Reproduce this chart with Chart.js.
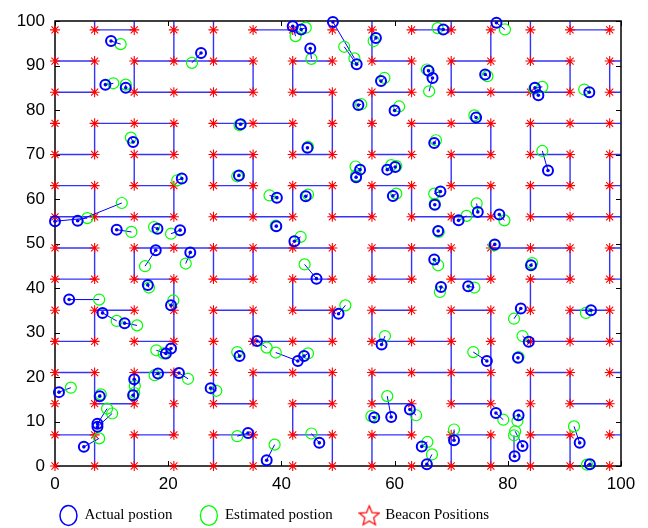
<!DOCTYPE html>
<html>
<head>
<meta charset="utf-8">
<script src="https://cdn.jsdelivr.net/npm/chart.js@4.4.1/dist/chart.umd.min.js"></script>
<style>
html,body{margin:0;padding:0;background:#fff;}
#wrap{width:648px;height:528px;position:relative;}
</style>
</head>
<body>
<div id="wrap"><canvas id="c" width="648" height="528"></canvas></div>
<script>
// ---------- data ----------
const beaconPos = [0, 7, 14, 21, 28, 35, 42, 49, 56, 63, 70, 77, 84, 91, 98];
const xTicks = [0, 20, 40, 60, 80, 100];
const yTicks = [0, 10, 20, 30, 40, 50, 60, 70, 80, 90, 100];

const actualX = [9.9, 8.9, 12.5, 25.8, 13.8, 22.4, 42.0, 43.5, 49.1, 53.3, 45.1, 56.7, 57.6, 53.6, 60.0, 32.8, 44.6, 32.5, 53.9, 53.2, 58.7, 60.1, 68.6, 78.0, 66.0, 66.7, 76.0, 84.8, 85.4, 94.4, 74.4, 67.0, 87.1, 0.0, 4.0, 10.9, 18.1, 22.1, 17.8, 23.9, 16.4, 2.5, 20.5, 8.4, 12.3, 19.6, 20.5, 18.2, 21.9, 14.0, 13.8, 7.9, 0.7, 7.5, 7.5, 5.1, 27.5, 35.7, 42.9, 44.0, 32.6, 34.1, 37.4, 46.7, 57.7, 59.4, 56.4, 62.7, 64.8, 65.7, 83.7, 76.3, 81.8, 70.5, 77.9, 81.9, 82.6, 81.2, 92.7, 94.5, 39.2, 44.3, 39.1, 42.3, 46.2, 50.1, 59.7, 68.1, 67.1, 74.7, 71.3, 78.5, 67.7, 77.7, 67.0, 84.1, 68.2, 73.0, 82.3, 94.7];
const actualY = [95.5, 85.7, 85.0, 92.8, 72.8, 64.6, 98.8, 98.1, 99.8, 90.3, 93.8, 96.2, 86.5, 81.1, 79.9, 76.8, 71.5, 65.3, 66.6, 64.9, 66.6, 67.2, 98.1, 99.6, 88.8, 87.2, 88.0, 85.0, 83.3, 84.0, 78.3, 72.6, 66.4, 55.0, 55.1, 53.1, 53.3, 53.0, 48.5, 48.0, 40.7, 37.4, 36.1, 34.4, 32.1, 25.3, 26.4, 20.8, 20.9, 19.5, 15.9, 15.7, 16.6, 9.5, 8.8, 4.3, 17.5, 28.1, 23.6, 24.7, 24.7, 7.4, 1.3, 5.2, 27.3, 11.0, 10.9, 12.7, 4.4, 0.4, 27.9, 23.6, 24.3, 5.8, 11.9, 11.4, 4.5, 2.2, 5.2, 0.4, 60.3, 60.6, 53.9, 50.5, 42.1, 34.2, 60.7, 61.7, 58.7, 57.1, 55.2, 56.5, 52.8, 49.8, 46.4, 45.1, 40.2, 40.4, 35.4, 35.0];
const estimatedX = [11.6, 10.3, 12.5, 24.2, 13.4, 21.6, 42.5, 44.3, 52.9, 51.1, 45.3, 56.3, 58.2, 54.1, 60.8, 32.6, 44.7, 32.2, 53.1, 53.2, 59.4, 60.3, 67.6, 79.5, 65.7, 66.1, 76.4, 86.1, 84.7, 93.5, 74.1, 67.3, 86.1, 5.7, 11.8, 13.5, 17.5, 20.5, 15.9, 23.1, 16.6, 7.8, 20.9, 10.9, 14.5, 17.9, 19.2, 17.6, 23.5, 14.1, 14.0, 8.1, 2.8, 9.2, 10.1, 7.8, 28.5, 37.4, 39.0, 44.7, 32.2, 32.2, 38.8, 45.3, 58.3, 58.7, 55.9, 63.8, 65.8, 66.6, 82.6, 73.9, 81.9, 70.5, 79.2, 81.7, 81.3, 81.1, 91.7, 94.0, 37.9, 44.7, 39.0, 43.4, 44.1, 51.3, 60.3, 67.0, 67.1, 74.5, 72.7, 79.4, 67.8, 77.6, 67.7, 84.3, 68.0, 74.1, 81.1, 93.8];
const estimatedY = [94.8, 86.0, 85.7, 90.6, 73.8, 64.2, 96.6, 98.5, 91.6, 94.2, 91.5, 95.5, 87.2, 81.3, 80.8, 76.6, 71.7, 65.1, 67.3, 65.3, 67.6, 67.4, 98.4, 98.1, 89.1, 84.2, 87.6, 85.2, 84.8, 84.6, 78.8, 73.2, 70.8, 55.7, 59.1, 52.6, 53.7, 52.2, 44.9, 45.5, 40.1, 37.4, 37.2, 32.6, 31.6, 26.0, 25.3, 20.4, 19.6, 18.0, 16.4, 16.1, 17.6, 12.9, 11.8, 6.2, 16.9, 26.6, 25.5, 25.3, 25.6, 6.7, 4.8, 7.3, 29.2, 15.7, 11.2, 11.4, 5.4, 2.6, 29.2, 25.6, 24.5, 8.2, 10.4, 10.1, 7.8, 6.9, 8.9, 0.3, 60.8, 61.0, 54.0, 51.5, 45.3, 36.1, 61.2, 61.2, 58.9, 59.0, 56.2, 55.2, 52.6, 49.6, 45.1, 45.6, 39.1, 40.1, 33.1, 34.4];

// maze walls, as [column index, row index] into beaconPos
// horizontal wall: from (i, j) to (i+1, j); vertical wall: from (i, j) to (i, j+1)
const hWalls = [
  [1,14],[5,14],[9,14],[13,14],
  [0,13],[2,13],[3,13],[4,13],[6,13],[8,13],[10,13],[12,13],[14,13],
  [0,12],[2,12],[3,12],[4,12],[6,12],[8,12],[10,12],[11,12],[12,12],[14,12],
  [1,11],[2,11],[4,11],[5,11],[9,11],[10,11],[12,11],[13,11],[14,11],
  [0,10],[2,10],[4,10],[6,10],[8,10],[10,10],[12,10],[14,10],
  [0,9],[2,9],[4,9],[6,9],[8,9],[10,9],[12,9],[14,9],
  [0,8],[1,8],[2,8],[4,8],[5,8],[7,8],[9,8],[10,8],[12,8],[13,8],[14,8],
  [0,7],[2,7],[3,7],[4,7],[5,7],[6,7],[8,7],[9,7],[11,7],[12,7],[14,7],
  [0,6],[2,6],[4,6],[6,6],[8,6],[10,6],[12,6],[14,6],
  [1,5],[4,5],[6,5],[8,5],[10,5],[13,5],
  [0,4],[2,4],[5,4],[6,4],[8,4],[9,4],[12,4],[13,4],[14,4],
  [0,3],[2,3],[5,3],[6,3],[8,3],[9,3],[10,3],[12,3],[14,3],
  [1,2],[4,2],[6,2],[8,2],[10,2],[13,2],
  [0,1],[2,1],[4,1],[6,1],[8,1],[10,1],[12,1],[14,1]
];
const vWalls = [
  [1,14],[2,14],[3,14],[4,14],[8,14],[10,14],[12,14],[13,14],
  [3,13],[4,13],[8,13],[11,13],[12,13],
  [1,12],[2,12],[5,12],[6,12],[9,12],[10,12],[13,12],[14,12],
  [7,11],[8,11],
  [1,10],[3,10],[6,10],[7,10],[8,10],[9,10],[11,10],[12,10],
  [2,9],[4,9],[5,9],[10,9],[13,9],[14,9],
  [1,8],[3,8],[5,8],[6,8],[7,8],[8,8],[9,8],[11,8],[12,8],[14,8],
  [1,6],[2,6],[4,6],[5,6],[7,6],[8,6],[9,6],[10,6],[11,6],[13,6],[14,6],
  [3,5],[6,5],[12,5],
  [1,4],[3,4],[4,4],[5,4],[7,4],[8,4],[10,4],[11,4],[13,4],[14,4],
  [4,3],[10,3],[11,3],
  [1,2],[2,2],[3,2],[4,2],[5,2],[7,2],[8,2],[10,2],[11,2],[12,2],[13,2],
  [3,1],[6,1],[9,1],[12,1],
  [1,0],[2,0],[4,0],[5,0],[7,0],[8,0],[10,0],[11,0],[12,0],[13,0]
];

// ---------- build datasets ----------
const AXIS_MAX = 100;
const posAt = k => (k < beaconPos.length ? beaconPos[k] : AXIS_MAX);
const gap = {x: null, y: null};

const mazePts = [];
hWalls.forEach(([i, j]) => { mazePts.push({x: beaconPos[i], y: beaconPos[j]}, {x: posAt(i + 1), y: beaconPos[j]}, gap); });
vWalls.forEach(([i, j]) => { mazePts.push({x: beaconPos[i], y: beaconPos[j]}, {x: beaconPos[i], y: posAt(j + 1)}, gap); });

const beaconPts = [];
beaconPos.forEach(bx => beaconPos.forEach(by => beaconPts.push({x: bx, y: by})));

const actualPts = actualX.map((v, k) => ({x: v, y: actualY[k]}));
const estPts = estimatedX.map((v, k) => ({x: v, y: estimatedY[k]}));
const linkPts = [];
actualPts.forEach((p, k) => linkPts.push(p, estPts[k], gap));

// legend star icon
function starIcon() {
  const c = document.createElement('canvas');
  c.width = 22; c.height = 24;
  const g = c.getContext('2d');
  g.strokeStyle = '#ff0000'; g.lineWidth = 1.2;
  g.beginPath();
  for (let k = 0; k < 10; k++) {
    const r = k % 2 === 0 ? 10.5 : 4.6;
    const a = -Math.PI / 2 + k * Math.PI / 5;
    const px = 11 + r * Math.cos(a), py = 12.8 + r * Math.sin(a);
    k === 0 ? g.moveTo(px, py) : g.lineTo(px, py);
  }
  g.closePath(); g.stroke();
  return c;
}
const starImg = starIcon();

const frame = {
  id: 'frame',
  beforeDatasetsDraw(chart) {
    const {ctx, chartArea: a, scales: {x, y}} = chart;
    ctx.save();
    ctx.strokeStyle = '#000';
    ctx.lineWidth = 1.5;
    ctx.strokeRect(a.left, a.top, a.right - a.left, a.bottom - a.top);
    ctx.lineWidth = 1;
    ctx.beginPath();
    xTicks.forEach(v => {
      const p = Math.round(x.getPixelForValue(v)) + 0.5;
      ctx.moveTo(p, a.bottom); ctx.lineTo(p, a.bottom - 5);
      ctx.moveTo(p, a.top); ctx.lineTo(p, a.top + 5);
    });
    yTicks.forEach(v => {
      const p = Math.round(y.getPixelForValue(v)) + 0.5;
      ctx.moveTo(a.left, p); ctx.lineTo(a.left + 5, p);
      ctx.moveTo(a.right, p); ctx.lineTo(a.right - 5, p);
    });
    ctx.stroke();
    ctx.restore();
  }
};

const legendShift = {
  id: 'legendShift',
  afterLayout(chart) {
    const L = chart.legend;
    if (!L) return;
    L.left -= 36; L.right -= 36;
    L.top -= 21; L.bottom -= 21;
  }
};

new Chart(document.getElementById('c'), {
  type: 'scatter',
  data: {
    datasets: [
      {label: 'maze', type: 'line', data: mazePts, borderColor: 'rgba(0,0,255,0.8)', borderWidth: 1.4,
       pointRadius: 0, spanGaps: false, fill: false, order: 6, clip: false},
      {label: 'Beacon Positions', data: beaconPts, pointStyle: 'star', pointRadius: 5,
       borderColor: '#ff0000', borderWidth: 1.1, backgroundColor: '#ff0000', order: 5, clip: false},
      {label: 'links', type: 'line', data: linkPts, borderColor: '#0000ff', borderWidth: 1,
       pointRadius: 0, spanGaps: false, fill: false, order: 4, clip: false},
      {label: 'Estimated postion', data: estPts, pointStyle: 'circle', pointRadius: 5.5,
       borderColor: '#00ff00', borderWidth: 1.2, backgroundColor: 'rgba(0,0,0,0)', order: 3, clip: false},
      {label: 'Actual postion', data: actualPts, pointStyle: 'circle', pointRadius: 5,
       borderColor: '#0000ff', borderWidth: 2, backgroundColor: 'rgba(0,0,0,0)', order: 2, clip: false},
      {label: 'centres', data: actualPts, pointStyle: 'circle', pointRadius: 1.8,
       borderColor: '#0000ff', borderWidth: 0, backgroundColor: '#0000ff', order: 1, clip: false}
    ]
  },
  options: {
    responsive: false,
    animation: false,
    events: [],
    devicePixelRatio: 1,
    layout: {padding: {top: 21, left: 0, right: 27, bottom: -26}},
    scales: {
      x: {
        type: 'linear', min: 0, max: 100,
        afterFit: s => { s.height = 35; },
        ticks: {stepSize: 20, padding: 8, maxRotation: 0, autoSkip: false, color: '#000', font: {family: 'Liberation Sans', size: 17}},
        grid: {display: false, drawTicks: false}, border: {display: false}
      },
      y: {
        type: 'linear', min: 0, max: 100,
        afterFit: s => { s.width = 55; },
        ticks: {stepSize: 10, padding: 10, autoSkip: false, color: '#000', font: {family: 'Liberation Sans', size: 17}},
        grid: {display: false, drawTicks: false}, border: {display: false}
      }
    },
    plugins: {
      tooltip: {enabled: false},
      legend: {
        position: 'bottom',
        labels: {
          usePointStyle: true, pointStyleWidth: 17, boxHeight: 14, padding: 28,
          color: '#000', font: {family: 'Liberation Serif', size: 15},
          generateLabels: () => [
            {text: 'Actual postion', pointStyle: 'circle', strokeStyle: '#0000ff', fillStyle: 'rgba(0,0,0,0)', lineWidth: 1.5, datasetIndex: 4},
            {text: 'Estimated postion', pointStyle: 'circle', strokeStyle: '#00ff00', fillStyle: 'rgba(0,0,0,0)', lineWidth: 1.3, datasetIndex: 3},
            {text: 'Beacon Positions', pointStyle: starImg, strokeStyle: '#ff0000', fillStyle: 'rgba(0,0,0,0)', lineWidth: 1, datasetIndex: 1}
          ]
        }
      }
    }
  },
  plugins: [frame, legendShift]
});
</script>
</body>
</html>
